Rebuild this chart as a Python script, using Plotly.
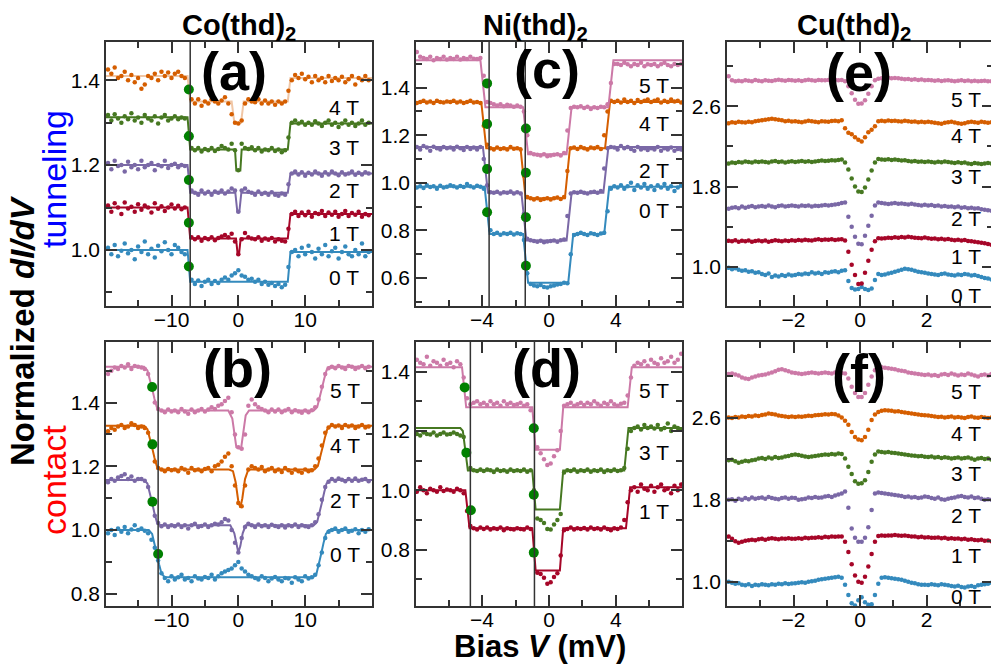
import plotly.graph_objects as go

FONT = "Liberation Sans, Arial, sans-serif"
FIELD_COLORS = {"0 T": "#348ABD", "1 T": "#A60628", "2 T": "#7A68A6",
                "3 T": "#467821", "4 T": "#D55E00", "5 T": "#CC79A7"}
MARK_COLOR = "#008000"
AX_COLOR = "#333333"


def grid(lo, hi, n):
    return [lo + (hi - lo) * i / (n - 1) for i in range(n)]


# ---------------- (a) Co(thd)2 tunneling : bias -19.5..19.5 mV, 0.5 mV step
co_bias = (-19.5, 19.5)
a_0T = [1.005, 0.99, 1.012, 0.985, 0.998, 1.015, 0.992, 1.0, 0.978, 1.008,
        0.995, 1.02, 0.99, 1.003, 0.982, 1.01, 0.997, 1.018, 1.0, 0.99,
        1.012, 1.005, 0.995, 0.99, 0.962, 0.93, 0.92, 0.928, 0.915, 0.925,
        0.93, 0.92, 0.927, 0.922, 0.93, 0.935, 0.93, 0.94, 0.945, 0.952,
        0.94, 0.937, 0.93, 0.932, 0.925, 0.93, 0.92, 0.925, 0.918, 0.922,
        0.915, 0.92, 0.912, 0.918, 0.96, 0.995, 1.0, 0.985, 1.005, 0.99,
        1.01, 0.995, 0.98, 1.003, 0.99, 1.012, 0.985, 0.997, 1.005, 0.98,
        0.995, 1.008, 0.99, 0.985, 1.0, 0.99, 1.015, 0.985, 0.995]
a_1T = [1.105, 1.09, 1.11, 1.1, 1.085, 1.112, 1.098, 1.102, 1.09, 1.108,
        1.095, 1.105, 1.1, 1.088, 1.11, 1.097, 1.103, 1.092, 1.1, 1.107,
        1.098, 1.104, 1.096, 1.1, 1.065, 1.03, 1.025, 1.03, 1.022, 1.028,
        1.025, 1.03, 1.023, 1.028, 1.032, 1.035, 1.03, 1.038, 1.02, 0.99,
        1.025, 1.04, 1.03, 1.027, 1.025, 1.03, 1.022, 1.027, 1.024, 1.028,
        1.02, 1.025, 1.022, 1.02, 1.05, 1.085, 1.09, 1.08, 1.088, 1.082,
        1.09, 1.078, 1.087, 1.085, 1.092, 1.08, 1.088, 1.083, 1.09, 1.078,
        1.085, 1.092, 1.08, 1.087, 1.083, 1.09, 1.078, 1.085, 1.082]
a_2T = [1.205, 1.19, 1.21, 1.198, 1.2, 1.185, 1.208, 1.195, 1.2, 1.19,
        1.21, 1.195, 1.2, 1.205, 1.188, 1.2, 1.197, 1.21, 1.193, 1.2,
        1.203, 1.195, 1.2, 1.198, 1.17, 1.14, 1.135, 1.13, 1.14, 1.133,
        1.137, 1.13, 1.138, 1.135, 1.14, 1.133, 1.138, 1.145, 1.14, 1.09,
        1.14, 1.145, 1.137, 1.135, 1.13, 1.138, 1.132, 1.135, 1.13, 1.136,
        1.13, 1.128, 1.133, 1.13, 1.155, 1.18, 1.185, 1.178, 1.183, 1.175,
        1.182, 1.178, 1.185, 1.18, 1.175, 1.183, 1.178, 1.185, 1.18, 1.176,
        1.183, 1.178, 1.18, 1.185, 1.177, 1.182, 1.178, 1.183, 1.18]
a_3T = [1.318, 1.305, 1.32, 1.31, 1.3, 1.315, 1.308, 1.322, 1.305, 1.312,
        1.3, 1.318, 1.31, 1.305, 1.315, 1.298, 1.312, 1.318, 1.305, 1.31,
        1.315, 1.308, 1.312, 1.31, 1.275, 1.24, 1.235, 1.24, 1.232, 1.238,
        1.235, 1.24, 1.233, 1.238, 1.245, 1.24, 1.237, 1.25, 1.235, 1.188,
        1.25, 1.24, 1.238, 1.242, 1.235, 1.24, 1.232, 1.237, 1.235, 1.24,
        1.233, 1.237, 1.23, 1.235, 1.265, 1.3, 1.305, 1.298, 1.302, 1.295,
        1.3, 1.295, 1.303, 1.298, 1.292, 1.3, 1.305, 1.295, 1.3, 1.29,
        1.298, 1.305, 1.295, 1.3, 1.292, 1.298, 1.305, 1.295, 1.3]
a_4T = [1.425, 1.415, 1.43, 1.405, 1.41, 1.42, 1.4, 1.412, 1.395, 1.405,
        1.38, 1.39, 1.41, 1.405, 1.415, 1.4, 1.42, 1.41, 1.418, 1.405,
        1.415, 1.42, 1.41, 1.405, 1.375, 1.355, 1.345, 1.355, 1.34, 1.35,
        1.345, 1.355, 1.35, 1.345, 1.352, 1.36, 1.345, 1.32, 1.3, 1.298,
        1.305, 1.345, 1.355, 1.35, 1.348, 1.355, 1.345, 1.352, 1.345, 1.35,
        1.342, 1.35, 1.345, 1.35, 1.375, 1.4, 1.412, 1.405, 1.415, 1.402,
        1.408, 1.395, 1.41, 1.4, 1.405, 1.395, 1.41, 1.398, 1.405, 1.4,
        1.408, 1.395, 1.402, 1.41, 1.39, 1.405, 1.4, 1.41, 1.4]
a_fits = {
    "0 T": ([-19.8, -7.6, -7.2, 7.4, 7.8, 20], [1.0, 1.0, 0.925, 0.925, 0.995, 0.995]),
    "1 T": ([-19.8, -7.6, -7.2, -0.35, -0.1, 0.1, 0.35, 7.4, 7.8, 20],
            [1.1, 1.1, 1.027, 1.027, 0.99, 0.99, 1.027, 1.027, 1.085, 1.085]),
    "2 T": ([-19.8, -7.6, -7.2, -0.45, -0.15, 0.15, 0.45, 7.4, 7.8, 20],
            [1.2, 1.2, 1.135, 1.135, 1.09, 1.09, 1.135, 1.135, 1.18, 1.18]),
    "3 T": ([-19.8, -7.6, -7.2, -0.5, -0.3, 0.3, 0.5, 7.4, 7.8, 20],
            [1.313, 1.313, 1.237, 1.237, 1.187, 1.187, 1.237, 1.237, 1.298, 1.298]),
    "4 T": ([-19.8, -7.6, -7.2, -1.0, -0.6, 0.4, 0.8, 7.4, 7.8, 20],
            [1.41, 1.41, 1.35, 1.35, 1.3, 1.3, 1.35, 1.35, 1.405, 1.405]),
}
a_mark_x = [-7.4, -7.4, -7.4, -7.4, -7.4]
a_mark_y = [1.378, 1.268, 1.165, 1.064, 0.961]
a_vlines = [-7.2]
a_label_y = {"4 T": 1.336, "3 T": 1.242, "2 T": 1.141, "1 T": 1.04, "0 T": 0.936}

# ---------------- (b) Co(thd)2 contact
b_0T = [0.99, 1.0, 0.985, 1.005, 0.995, 1.01, 0.99, 1.002, 1.015, 1.0,
        1.005, 0.998, 0.99, 0.97, 0.945, 0.905, 0.865, 0.85, 0.84, 0.855,
        0.845, 0.852, 0.86, 0.845, 0.85, 0.84, 0.855, 0.848, 0.845, 0.853,
        0.85, 0.86, 0.845, 0.855, 0.865, 0.87, 0.875, 0.88, 0.89, 0.9,
        0.88, 0.87, 0.86, 0.855, 0.85, 0.845, 0.855, 0.85, 0.84, 0.848,
        0.853, 0.845, 0.84, 0.85, 0.848, 0.835, 0.852, 0.845, 0.84, 0.855,
        0.848, 0.852, 0.86, 0.89, 0.93, 0.975, 0.995, 1.0, 1.005, 0.995,
        1.0, 1.005, 0.995, 0.998, 1.003, 0.99, 1.0, 0.995, 1.003]
b_2T = [1.15, 1.16, 1.155, 1.165, 1.17, 1.175, 1.16, 1.168, 1.155, 1.16,
        1.16, 1.155, 1.135, 1.095, 1.045, 1.022, 1.012, 1.018, 1.01, 1.015,
        1.012, 1.018, 1.01, 1.015, 1.005, 1.015, 1.02, 1.01, 1.013, 1.018,
        1.01, 1.015, 1.02, 1.018, 1.025, 1.035, 1.03, 1.0, 0.96, 0.93,
        0.975, 1.01, 1.02, 1.015, 1.01, 1.018, 1.012, 1.015, 1.01, 1.017,
        1.013, 1.01, 1.015, 1.008, 1.015, 1.012, 1.018, 1.01, 1.015, 1.012,
        1.01, 1.015, 1.025, 1.05, 1.095, 1.135, 1.152, 1.16, 1.155, 1.162,
        1.158, 1.153, 1.16, 1.155, 1.162, 1.155, 1.158, 1.16, 1.153]
b_4T = [1.31, 1.32, 1.315, 1.325, 1.33, 1.32, 1.325, 1.335, 1.33, 1.32,
        1.325, 1.32, 1.305, 1.265, 1.215, 1.195, 1.19, 1.185, 1.192, 1.188,
        1.19, 1.185, 1.195, 1.19, 1.18, 1.195, 1.188, 1.19, 1.185, 1.192,
        1.195, 1.185, 1.2, 1.205, 1.215, 1.23, 1.24, 1.2, 1.14, 1.085,
        1.075, 1.14, 1.19, 1.2, 1.195, 1.19, 1.198, 1.185, 1.19, 1.195,
        1.185, 1.19, 1.182, 1.195, 1.188, 1.18, 1.19, 1.185, 1.18, 1.19,
        1.185, 1.188, 1.2, 1.225, 1.265, 1.305, 1.322, 1.33, 1.325, 1.328,
        1.32, 1.33, 1.325, 1.328, 1.32, 1.325, 1.33, 1.322, 1.325]
b_5T = [1.49, 1.5, 1.51, 1.505, 1.515, 1.51, 1.52, 1.505, 1.515, 1.512,
        1.51, 1.505, 1.49, 1.45, 1.4, 1.38, 1.375, 1.37, 1.378, 1.372,
        1.375, 1.37, 1.38, 1.372, 1.365, 1.378, 1.37, 1.375, 1.38, 1.372,
        1.378, 1.385, 1.38, 1.39, 1.395, 1.405, 1.415, 1.37, 1.3, 1.26,
        1.255, 1.3, 1.39, 1.41, 1.395, 1.385, 1.38, 1.375, 1.37, 1.378,
        1.372, 1.378, 1.37, 1.375, 1.38, 1.37, 1.376, 1.372, 1.368, 1.375,
        1.37, 1.376, 1.385, 1.41, 1.45, 1.49, 1.508, 1.512, 1.508, 1.515,
        1.51, 1.505, 1.515, 1.512, 1.505, 1.51, 1.515, 1.508, 1.512]
b_fits = {
    "0 T": ([-19.8, -13.4, -12.9, -12.55, -12.2, -11.85, -11.5, -11.0,
             11.2, 11.7, 12.05, 12.4, 12.75, 13.1, 13.6, 20],
            [1.0, 1.0, 0.988, 0.96, 0.926, 0.892, 0.864, 0.852,
             0.852, 0.864, 0.892, 0.926, 0.96, 0.988, 1.0, 1.0]),
    "2 T": ([-19.8, -14.1, -13.6, -13.25, -12.9, -12.55, -12.2, -11.7,
             -1.2, -0.6, -0.25, 0, 0.3, 0.65, 1.1,
             11.3, 11.8, 12.15, 12.5, 12.85, 13.2, 13.7, 20],
            [1.157, 1.157, 1.146, 1.119, 1.086, 1.053, 1.026, 1.015,
             1.015, 0.99, 0.95, 0.93, 0.95, 0.99, 1.015,
             1.015, 1.026, 1.053, 1.086, 1.119, 1.146, 1.157, 1.157]),
    "4 T": ([-19.8, -14.1, -13.6, -13.25, -12.9, -12.55, -12.2, -11.7,
             -1.4, -0.8, -0.4, 0, 0.3, 0.6, 1.0, 1.5,
             11.4, 11.9, 12.25, 12.6, 12.95, 13.3, 13.8, 20],
            [1.327, 1.327, 1.316, 1.29, 1.259, 1.227, 1.201, 1.19,
             1.19, 1.185, 1.15, 1.09, 1.07, 1.1, 1.16, 1.19,
             1.19, 1.201, 1.227, 1.259, 1.29, 1.316, 1.327, 1.327]),
    "5 T": ([-19.8, -14.1, -13.6, -13.25, -12.9, -12.55, -12.2, -11.7,
             -1.5, -0.9, -0.5, -0.3, 0.4, 0.7, 1.1, 1.6,
             11.3, 11.8, 12.15, 12.5, 12.85, 13.2, 13.7, 20],
            [1.512, 1.512, 1.501, 1.475, 1.444, 1.412, 1.386, 1.375,
             1.375, 1.35, 1.29, 1.26, 1.255, 1.3, 1.36, 1.375,
             1.375, 1.386, 1.412, 1.444, 1.475, 1.501, 1.512, 1.512]),
}
b_mark_x = [-12.9, -12.85, -12.85, -12.0]
b_mark_y = [1.449, 1.269, 1.089, 0.925]
b_vlines = [-12.0]
b_label_y = {"5 T": 1.439, "4 T": 1.266, "2 T": 1.094, "0 T": 0.922}

# ---------------- (c) Ni(thd)2 tunneling : bias -7.9..7.9 mV, 0.2 mV step
ni_bias = (-7.9, 7.9)
c_0T = [0.98, 0.985, 0.978, 0.99, 0.982, 0.985, 0.975, 0.988, 0.98, 0.983,
        0.99, 0.985, 0.98, 0.987, 0.982, 0.995, 0.985, 0.98, 0.988, 0.983,
        0.975, 0.88, 0.8, 0.785, 0.79, 0.782, 0.788, 0.785, 0.79, 0.783,
        0.788, 0.785, 0.76, 0.62, 0.575, 0.568, 0.565, 0.57, 0.562, 0.56,
        0.565, 0.568, 0.572, 0.575, 0.58, 0.578, 0.7, 0.78, 0.785, 0.79,
        0.785, 0.78, 0.788, 0.785, 0.78, 0.787, 0.79, 0.88, 0.975, 0.985,
        0.98, 0.99, 0.975, 0.985, 1.0, 0.97, 0.99, 0.98, 0.995, 0.975,
        0.985, 0.97, 0.99, 0.98, 0.995, 0.975, 0.985, 0.965, 0.98, 0.99]
c_2T = [1.15, 1.14, 1.155, 1.148, 1.135, 1.152, 1.145, 1.14, 1.15, 1.145,
        1.148, 1.14, 1.152, 1.145, 1.138, 1.15, 1.142, 1.148, 1.14, 1.15,
        1.1, 0.99, 0.96, 0.958, 0.962, 0.955, 0.96, 0.958, 0.963, 0.955,
        0.96, 0.955, 0.87, 0.765, 0.758, 0.755, 0.752, 0.756, 0.75, 0.753,
        0.755, 0.757, 0.752, 0.758, 0.762, 0.86, 0.955, 0.96, 0.958, 0.962,
        0.958, 0.955, 0.96, 0.962, 0.958, 0.965, 1.06, 1.145, 1.15, 1.148,
        1.14, 1.155, 1.145, 1.15, 1.142, 1.135, 1.15, 1.14, 1.145, 1.138,
        1.145, 1.14, 1.15, 1.135, 1.145, 1.14, 1.148, 1.135, 1.142, 1.14]
c_4T = [1.335, 1.34, 1.345, 1.338, 1.342, 1.335, 1.345, 1.34, 1.338, 1.342,
        1.34, 1.345, 1.338, 1.342, 1.335, 1.34, 1.345, 1.338, 1.34, 1.335,
        1.24, 1.16, 1.145, 1.14, 1.148, 1.142, 1.145, 1.14, 1.15, 1.143,
        1.145, 1.14, 1.03, 0.94, 0.935, 0.93, 0.935, 0.928, 0.932, 0.935,
        0.93, 0.935, 0.938, 0.932, 0.94, 1.05, 1.145, 1.148, 1.142, 1.15,
        1.145, 1.14, 1.148, 1.145, 1.15, 1.142, 1.2, 1.3, 1.345, 1.34,
        1.345, 1.338, 1.35, 1.34, 1.345, 1.335, 1.348, 1.34, 1.345, 1.35,
        1.34, 1.345, 1.35, 1.338, 1.345, 1.34, 1.35, 1.342, 1.345, 1.338]
c_5T = [1.55, 1.53, 1.525, 1.52, 1.53, 1.515, 1.525, 1.52, 1.53, 1.518,
        1.525, 1.52, 1.53, 1.518, 1.525, 1.52, 1.53, 1.522, 1.52, 1.525,
        1.45, 1.34, 1.335, 1.33, 1.325, 1.33, 1.322, 1.328, 1.325, 1.32,
        1.325, 1.32, 1.3, 1.2, 1.125, 1.12, 1.118, 1.115, 1.12, 1.112,
        1.115, 1.118, 1.12, 1.115, 1.125, 1.22, 1.315, 1.32, 1.318, 1.322,
        1.315, 1.32, 1.31, 1.318, 1.315, 1.32, 1.318, 1.33, 1.42, 1.5,
        1.5, 1.495, 1.505, 1.498, 1.49, 1.5, 1.495, 1.505, 1.49, 1.498,
        1.495, 1.5, 1.49, 1.498, 1.505, 1.495, 1.49, 1.5, 1.495, 1.5]
c_fits = {
    "0 T": ([-8, -3.85, -3.55, -1.55, -1.25, 1.15, 1.45, 3.3, 3.6, 8],
            [0.983, 0.983, 0.785, 0.785, 0.58, 0.58, 0.785, 0.785, 0.983, 0.983]),
    "2 T": ([-8, -3.95, -3.65, -1.65, -1.35, 1.05, 1.35, 3.25, 3.55, 8],
            [1.15, 1.15, 0.958, 0.958, 0.757, 0.757, 0.958, 0.958, 1.15, 1.15]),
    "4 T": ([-8, -4.05, -3.75, -1.7, -1.4, 0.95, 1.25, 3.35, 3.65, 8],
            [1.34, 1.34, 1.145, 1.145, 0.935, 0.935, 1.145, 1.145, 1.34, 1.34]),
    "5 T": ([-8, -4.1, -3.8, -1.55, -1.25, 1.05, 1.35, 3.55, 3.85, 8],
            [1.515, 1.515, 1.318, 1.318, 1.12, 1.12, 1.318, 1.318, 1.515, 1.515]),
}
c_mark_x = [-3.7, -3.7, -3.7, -3.7, -1.38, -1.38, -1.38, -1.38]
c_mark_y = [1.418, 1.247, 1.058, 0.876, 1.228, 1.042, 0.855, 0.651]
c_vlines = [-3.58, -1.42]
c_label_y = {"5 T": 1.41, "4 T": 1.25, "2 T": 1.053, "0 T": 0.885}

# ---------------- (d) Ni(thd)2 contact
d_1T = [0.995, 1.01, 1.0, 0.99, 1.005, 1.0, 0.995, 1.01, 0.998, 1.003,
        1.0, 0.995, 1.005, 1.0, 0.99, 0.93, 0.88, 0.872, 0.868, 0.875,
        0.87, 0.875, 0.868, 0.872, 0.87, 0.875, 0.865, 0.872, 0.87, 0.868,
        0.872, 0.87, 0.868, 0.875, 0.87, 0.8, 0.722, 0.718, 0.705, 0.685,
        0.69, 0.708, 0.72, 0.78, 0.865, 0.87, 0.875, 0.868, 0.872, 0.87,
        0.873, 0.868, 0.875, 0.87, 0.872, 0.868, 0.875, 0.87, 0.865, 0.872,
        0.87, 0.875, 0.9, 0.96, 1.0, 1.01, 0.995, 1.02, 1.005, 1.0,
        1.015, 0.995, 1.01, 1.02, 1.0, 1.005, 0.99, 1.015, 1.0, 1.02]
d_3T = [1.19, 1.185, 1.195, 1.19, 1.188, 1.195, 1.185, 1.19, 1.195, 1.188,
        1.19, 1.195, 1.19, 1.185, 1.18, 1.12, 1.075, 1.068, 1.065, 1.07,
        1.065, 1.07, 1.068, 1.062, 1.07, 1.065, 1.068, 1.063, 1.07, 1.065,
        1.068, 1.065, 1.07, 1.063, 1.068, 1.0, 0.905, 0.9, 0.89, 0.87,
        0.868, 0.885, 0.9, 0.92, 1.06, 1.068, 1.065, 1.07, 1.063, 1.068,
        1.065, 1.07, 1.063, 1.068, 1.065, 1.07, 1.062, 1.068, 1.065, 1.07,
        1.065, 1.068, 1.075, 1.14, 1.2, 1.21, 1.215, 1.205, 1.22, 1.21,
        1.215, 1.208, 1.22, 1.205, 1.21, 1.225, 1.2, 1.215, 1.21, 1.205]
d_5T = [1.44, 1.43, 1.425, 1.45, 1.42, 1.435, 1.43, 1.42, 1.44, 1.425,
        1.43, 1.415, 1.435, 1.425, 1.38, 1.31, 1.29, 1.295, 1.3, 1.29,
        1.295, 1.288, 1.3, 1.29, 1.295, 1.285, 1.3, 1.29, 1.295, 1.288,
        1.29, 1.295, 1.285, 1.29, 1.27, 1.2, 1.145, 1.125, 1.105, 1.085,
        1.09, 1.115, 1.135, 1.2, 1.285, 1.29, 1.295, 1.285, 1.29, 1.295,
        1.288, 1.295, 1.29, 1.3, 1.292, 1.285, 1.295, 1.29, 1.3, 1.29,
        1.285, 1.292, 1.295, 1.32, 1.38, 1.42, 1.43, 1.425, 1.435, 1.42,
        1.44, 1.43, 1.425, 1.445, 1.43, 1.435, 1.45, 1.43, 1.44, 1.46]
d_fits = {
    "1 T": ([-8, -5.0, -4.75, -1.0, -0.8, 0.65, 0.85, 4.6, 4.85, 8],
            [1.0, 1.0, 0.872, 0.872, 0.73, 0.73, 0.872, 0.872, 1.01, 1.01]),
    "3 T": ([-8, -5.3, -5.15, -4.85, -1.0, -0.8, 0.65, 0.85, 4.5, 4.75, 8],
            [1.21, 1.21, 1.2, 1.067, 1.067, 0.935, 0.935, 1.067, 1.067, 1.21, 1.21]),
    "5 T": ([-8, -5.2, -4.95, -1.0, -0.8, 0.65, 0.85, 4.7, 4.95, 8],
            [1.415, 1.415, 1.28, 1.28, 1.137, 1.137, 1.28, 1.28, 1.415, 1.415]),
}
d_mark_x = [-5.04, -4.94, -4.67, -0.91, -0.91, -0.91]
d_mark_y = [1.347, 1.127, 0.933, 1.209, 0.985, 0.79]
d_vlines = [-4.7, -0.87]
d_label_y = {"5 T": 1.336, "3 T": 1.129, "1 T": 0.927}

# ---------------- (e) Cu(thd)2 tunneling : bias -3.95..3.95 mV, 0.1 mV step
cu_bias = (-3.95, 3.95)
e_0T = [0.99, 0.975, 0.985, 0.97, 0.96, 0.965, 0.95, 0.955, 0.94, 0.945,
        0.93, 0.92, 0.935, 0.9, 0.915, 0.905, 0.92, 0.91, 0.925, 0.915,
        0.92, 0.93, 0.925, 0.935, 0.93, 0.945, 0.935, 0.94, 0.93, 0.945,
        0.94, 0.95, 0.955, 0.945, 0.96, 0.965, 0.86, 0.79, 0.775, 0.78,
        0.8, 0.78, 0.77, 0.785, 0.87, 0.93, 0.92, 0.925, 0.935, 0.94,
        0.95, 0.96, 0.97, 0.98, 0.975, 0.97, 0.96, 0.95, 0.945, 0.94,
        0.935, 0.93, 0.925, 0.92, 0.93, 0.935, 0.925, 0.92, 0.915, 0.925,
        0.92, 0.93, 0.925, 0.915, 0.92, 0.91, 0.9, 0.89, 0.885, 0.875]
e_1T = [1.26, 1.255, 1.265, 1.25, 1.26, 1.255, 1.262, 1.25, 1.258, 1.262,
        1.255, 1.262, 1.25, 1.258, 1.265, 1.26, 1.255, 1.263, 1.258, 1.265,
        1.26, 1.268, 1.262, 1.27, 1.265, 1.262, 1.27, 1.275, 1.268, 1.272,
        1.27, 1.275, 1.268, 1.272, 1.275, 1.262, 1.15, 1.02, 0.92, 0.83,
        0.835, 0.94, 1.06, 1.17, 1.255, 1.285, 1.282, 1.285, 1.29, 1.288,
        1.295, 1.29, 1.298, 1.292, 1.3, 1.295, 1.29, 1.288, 1.285, 1.292,
        1.285, 1.28, 1.282, 1.275, 1.28, 1.272, 1.278, 1.27, 1.265, 1.27,
        1.262, 1.268, 1.258, 1.255, 1.25, 1.245, 1.24, 1.235, 1.228, 1.22]
e_2T = [1.58, 1.59, 1.595, 1.585, 1.6, 1.59, 1.598, 1.605, 1.595, 1.6,
        1.605, 1.598, 1.61, 1.6, 1.595, 1.605, 1.61, 1.6, 1.605, 1.612,
        1.605, 1.6, 1.61, 1.605, 1.612, 1.6, 1.608, 1.605, 1.612, 1.615,
        1.61, 1.615, 1.62, 1.625, 1.635, 1.64, 1.5, 1.4, 1.3, 1.23,
        1.225, 1.31, 1.41, 1.51, 1.61, 1.64, 1.635, 1.63, 1.625, 1.63,
        1.635, 1.628, 1.632, 1.625, 1.62, 1.628, 1.62, 1.615, 1.612, 1.618,
        1.61, 1.615, 1.605, 1.61, 1.6, 1.605, 1.598, 1.6, 1.595, 1.6,
        1.59, 1.595, 1.585, 1.59, 1.582, 1.585, 1.575, 1.57, 1.565, 1.56]
e_3T = [2.03, 2.04, 2.035, 2.045, 2.04, 2.05, 2.045, 2.04, 2.05, 2.045,
        2.05, 2.045, 2.04, 2.05, 2.055, 2.045, 2.05, 2.04, 2.048, 2.052,
        2.045, 2.05, 2.055, 2.048, 2.052, 2.045, 2.05, 2.055, 2.06, 2.055,
        2.058, 2.062, 2.06, 2.065, 2.07, 2.04, 1.97, 1.88, 1.8, 1.75,
        1.745, 1.79, 1.87, 1.96, 2.04, 2.075, 2.07, 2.068, 2.072, 2.065,
        2.07, 2.065, 2.06, 2.062, 2.055, 2.05, 2.055, 2.048, 2.05, 2.045,
        2.05, 2.045, 2.04, 2.048, 2.042, 2.05, 2.045, 2.04, 2.035, 2.042,
        2.035, 2.04, 2.03, 2.025, 2.035, 2.03, 2.025, 2.03, 2.035, 2.03]
e_4T = [2.43, 2.44, 2.435, 2.445, 2.44, 2.438, 2.445, 2.44, 2.45, 2.455,
        2.46, 2.465, 2.47, 2.475, 2.47, 2.465, 2.46, 2.45, 2.455, 2.448,
        2.45, 2.445, 2.44, 2.448, 2.455, 2.45, 2.445, 2.44, 2.45, 2.448,
        2.445, 2.452, 2.455, 2.45, 2.46, 2.38, 2.335, 2.32, 2.29, 2.265,
        2.25, 2.29, 2.34, 2.365, 2.4, 2.45, 2.455, 2.45, 2.458, 2.452,
        2.455, 2.45, 2.448, 2.455, 2.45, 2.445, 2.448, 2.44, 2.445, 2.44,
        2.445, 2.44, 2.435, 2.43, 2.425, 2.435, 2.44, 2.445, 2.438, 2.43,
        2.425, 2.43, 2.44, 2.445, 2.44, 2.435, 2.445, 2.44, 2.435, 2.44]
e_5T = [2.9, 2.86, 2.85, 2.855, 2.848, 2.86, 2.855, 2.85, 2.862, 2.855,
        2.85, 2.86, 2.855, 2.852, 2.86, 2.865, 2.86, 2.855, 2.862, 2.858,
        2.855, 2.86, 2.852, 2.858, 2.865, 2.86, 2.855, 2.862, 2.858, 2.86,
        2.862, 2.858, 2.865, 2.86, 2.862, 2.85, 2.8, 2.73, 2.665, 2.625,
        2.628, 2.66, 2.725, 2.8, 2.86, 2.875, 2.88, 2.878, 2.885, 2.88,
        2.882, 2.878, 2.875, 2.87, 2.872, 2.865, 2.87, 2.862, 2.866, 2.86,
        2.862, 2.858, 2.855, 2.86, 2.852, 2.856, 2.86, 2.855, 2.85, 2.855,
        2.858, 2.852, 2.856, 2.85, 2.855, 2.848, 2.852, 2.855, 2.848, 2.85]
e_label_y = {"5 T": 2.67, "4 T": 2.31, "3 T": 1.896, "2 T": 1.482, "1 T": 1.1, "0 T": 0.718}

# ---------------- (f) Cu(thd)2 contact
f_0T = [1.0, 0.99, 0.98, 0.985, 0.97, 0.965, 0.975, 0.96, 0.97, 0.965,
        0.975, 0.97, 0.965, 0.975, 0.97, 0.98, 0.975, 0.985, 0.978, 0.982,
        0.985, 0.99, 0.995, 0.99, 1.0, 1.005, 1.01, 1.02, 1.025, 1.03,
        1.035, 1.04, 1.045, 1.05, 1.04, 0.97, 0.87, 0.79, 0.77, 0.82,
        0.85, 0.8, 0.775, 0.78, 0.87, 0.98, 1.04, 1.045, 1.04, 1.035,
        1.03, 1.025, 1.02, 1.01, 1.0, 0.99, 0.985, 0.975, 0.97, 0.972,
        0.968, 0.975, 0.97, 0.965, 0.975, 0.97, 0.965, 0.96, 0.955, 0.962,
        0.95, 0.945, 0.955, 0.96, 0.95, 0.965, 0.97, 0.975, 0.98, 0.99]
f_1T = [1.44, 1.42, 1.395, 1.38, 1.39, 1.4, 1.405, 1.41, 1.405, 1.415,
        1.42, 1.41, 1.418, 1.425, 1.42, 1.415, 1.422, 1.42, 1.425, 1.42,
        1.418, 1.425, 1.42, 1.428, 1.425, 1.43, 1.428, 1.435, 1.43, 1.438,
        1.435, 1.44, 1.438, 1.442, 1.44, 1.39, 1.29, 1.17, 1.06, 1.0,
        0.99, 1.05, 1.15, 1.27, 1.39, 1.445, 1.45, 1.448, 1.452, 1.45,
        1.455, 1.45, 1.448, 1.452, 1.445, 1.44, 1.442, 1.435, 1.438, 1.432,
        1.435, 1.43, 1.428, 1.432, 1.425, 1.43, 1.42, 1.425, 1.418, 1.422,
        1.415, 1.42, 1.41, 1.415, 1.408, 1.405, 1.41, 1.4, 1.402, 1.395]
f_2T = [1.8, 1.805, 1.79, 1.81, 1.8, 1.815, 1.805, 1.82, 1.81, 1.815,
        1.82, 1.81, 1.825, 1.815, 1.81, 1.805, 1.815, 1.822, 1.81, 1.818,
        1.815, 1.8, 1.805, 1.81, 1.82, 1.815, 1.825, 1.818, 1.822, 1.83,
        1.835, 1.825, 1.84, 1.85, 1.86, 1.88, 1.72, 1.52, 1.43, 1.39,
        1.39, 1.43, 1.53, 1.7, 1.86, 1.87, 1.865, 1.86, 1.855, 1.85,
        1.845, 1.84, 1.835, 1.825, 1.83, 1.82, 1.825, 1.815, 1.82, 1.83,
        1.825, 1.815, 1.81, 1.82, 1.805, 1.8, 1.81, 1.815, 1.82, 1.83,
        1.835, 1.825, 1.82, 1.83, 1.815, 1.82, 1.81, 1.8, 1.805, 1.8]
f_3T = [2.185, 2.19, 2.175, 2.16, 2.17, 2.18, 2.175, 2.185, 2.19, 2.2,
        2.205, 2.195, 2.21, 2.2, 2.215, 2.205, 2.21, 2.22, 2.225, 2.235,
        2.24, 2.235, 2.228, 2.22, 2.215, 2.22, 2.225, 2.23, 2.235, 2.24,
        2.238, 2.245, 2.24, 2.25, 2.245, 2.2, 2.12, 2.05, 1.98, 1.955,
        1.96, 1.99, 2.07, 2.17, 2.24, 2.27, 2.265, 2.26, 2.265, 2.258,
        2.255, 2.25, 2.245, 2.24, 2.235, 2.23, 2.228, 2.222, 2.225, 2.218,
        2.215, 2.22, 2.21, 2.215, 2.205, 2.212, 2.208, 2.2, 2.205, 2.21,
        2.2, 2.205, 2.21, 2.2, 2.19, 2.2, 2.205, 2.195, 2.2, 2.19]
f_4T = [2.6, 2.595, 2.605, 2.6, 2.61, 2.605, 2.615, 2.61, 2.62, 2.615,
        2.625, 2.63, 2.64, 2.635, 2.63, 2.62, 2.615, 2.61, 2.605, 2.61,
        2.605, 2.61, 2.608, 2.612, 2.618, 2.615, 2.622, 2.625, 2.628, 2.632,
        2.63, 2.635, 2.632, 2.62, 2.6, 2.57, 2.53, 2.46, 2.41, 2.385,
        2.38, 2.41, 2.48, 2.575, 2.63, 2.655, 2.665, 2.67, 2.668, 2.665,
        2.66, 2.662, 2.655, 2.65, 2.645, 2.64, 2.635, 2.63, 2.625, 2.622,
        2.62, 2.615, 2.61, 2.605, 2.608, 2.6, 2.605, 2.61, 2.6, 2.605,
        2.6, 2.595, 2.605, 2.61, 2.6, 2.598, 2.605, 2.6, 2.595, 2.6]
f_5T = [3.025, 3.03, 3.02, 3.01, 2.99, 2.98, 2.975, 2.99, 3.0, 3.01,
        3.015, 3.02, 3.03, 3.04, 3.05, 3.065, 3.07, 3.06, 3.05, 3.04,
        3.035, 3.03, 3.025, 3.03, 3.035, 3.04, 3.035, 3.03, 3.035, 3.04,
        3.035, 3.03, 3.038, 3.04, 3.035, 3.03, 2.98, 2.9, 2.84, 2.8,
        2.8, 2.84, 2.92, 3.0, 3.06, 3.08, 3.09, 3.085, 3.08, 3.075,
        3.07, 3.06, 3.055, 3.05, 3.04, 3.035, 3.03, 3.025, 3.02, 3.015,
        3.02, 3.01, 3.015, 3.005, 3.02, 3.025, 3.015, 3.03, 3.02, 3.01,
        3.02, 3.015, 3.03, 3.02, 3.01, 3.0, 3.015, 3.02, 3.01, 3.025]
f_label_y = {"5 T": 2.85, "4 T": 2.44, "3 T": 2.055, "2 T": 1.65, "1 T": 1.26, "0 T": 0.854}

# tick labels shown on each column's bias axis
co_ticks = [-10, 0, 10]
ni_ticks = [-4, 0, 4]
cu_ticks = [-2, 0, 2]

# ---------------- panel definitions
panels = [
    dict(ax=("x", "y"), bias=co_bias, series={"0 T": a_0T, "1 T": a_1T, "2 T": a_2T, "3 T": a_3T, "4 T": a_4T},
         fits=a_fits, mx=a_mark_x, my=a_mark_y, vl=a_vlines, lab=a_label_y, labx=15.8),
    dict(ax=("x4", "y4"), bias=co_bias, series={"0 T": b_0T, "2 T": b_2T, "4 T": b_4T, "5 T": b_5T},
         fits=b_fits, mx=b_mark_x, my=b_mark_y, vl=b_vlines, lab=b_label_y, labx=16.0),
    dict(ax=("x2", "y2"), bias=ni_bias, series={"0 T": c_0T, "2 T": c_2T, "4 T": c_4T, "5 T": c_5T},
         fits=c_fits, mx=c_mark_x, my=c_mark_y, vl=c_vlines, lab=c_label_y, labx=6.3),
    dict(ax=("x5", "y5"), bias=ni_bias, series={"1 T": d_1T, "3 T": d_3T, "5 T": d_5T},
         fits=d_fits, mx=d_mark_x, my=d_mark_y, vl=d_vlines, lab=d_label_y, labx=6.3),
    dict(ax=("x3", "y3"), bias=cu_bias,
         series={"0 T": e_0T, "1 T": e_1T, "2 T": e_2T, "3 T": e_3T, "4 T": e_4T, "5 T": e_5T},
         fits={}, mx=[], my=[], vl=[], lab=e_label_y, labx=3.2),
    dict(ax=("x6", "y6"), bias=cu_bias,
         series={"0 T": f_0T, "1 T": f_1T, "2 T": f_2T, "3 T": f_3T, "4 T": f_4T, "5 T": f_5T},
         fits={}, mx=[], my=[], vl=[], lab=f_label_y, labx=3.2),
]

fig = go.Figure()
shapes = []
annotations = []
for p in panels:
    xa, ya = p["ax"]
    for name, ys in p["series"].items():
        fig.add_trace(go.Scatter(x=grid(p["bias"][0], p["bias"][1], len(ys)), y=ys,
                                 mode="markers", xaxis=xa, yaxis=ya, showlegend=False,
                                 marker=dict(size=4.5, color=FIELD_COLORS[name], line=dict(width=0))))
    for name, (fx, fy) in p["fits"].items():
        faint = (xa == "x" and name == "4 T")
        fig.add_trace(go.Scatter(x=fx, y=fy, mode="lines", xaxis=xa, yaxis=ya, showlegend=False,
                                 opacity=0.35 if faint else 1.0,
                                 line=dict(color=FIELD_COLORS[name], width=2)))
    for v in p["vl"]:
        shapes.append(dict(type="line", xref=xa, yref=ya + " domain", x0=v, x1=v, y0=0, y1=1,
                           line=dict(color=AX_COLOR, width=1.5), layer="above"))
    if p["mx"]:
        fig.add_trace(go.Scatter(x=p["mx"], y=p["my"], mode="markers", xaxis=xa, yaxis=ya,
                                 showlegend=False, cliponaxis=False,
                                 marker=dict(size=10, color=MARK_COLOR)))
    for name, yv in p["lab"].items():
        annotations.append(dict(x=p["labx"], y=yv, xref=xa, yref=ya, text=name, showarrow=False,
                                font=dict(size=21, color="black", family=FONT),
                                xanchor="center", yanchor="middle"))

# The page body has an 8 px margin, so the figure is 991x661 and shifted by 8 px.
W, H, OFF = 991, 661, 8


def px(x):
    return (x - OFF) / W


def py(y):
    return 1 - (y - OFF) / H


tick_style = dict(ticks="inside", ticklen=11, tickwidth=1.5, tickcolor=AX_COLOR,
                  showline=True, linecolor=AX_COLOR, linewidth=1.5, mirror="ticks",
                  showgrid=False, zeroline=False,
                  tickfont=dict(size=21, color="black", family=FONT))

xdom = {"a": [px(106), px(372)], "c": [px(416), px(682)], "e": [px(727), px(993)]}
ydom = {"top": [py(306), py(42)], "bot": [py(606), py(342)]}


def xaxis(dom, rng, tv, mdt, anchor):
    return dict(domain=dom, range=rng, anchor=anchor, tickmode="array", tickvals=tv,
                ticklabelstandoff=-6,
                minor=dict(tickmode="linear", tick0=0, dtick=mdt, ticks="inside", ticklen=6,
                           tickwidth=1.5, tickcolor=AX_COLOR),
                **tick_style)


def yaxis(dom, rng, t0, dt, mdt, anchor):
    return dict(domain=dom, range=rng, anchor=anchor, tick0=t0, dtick=dt, tickformat=".1f",
                minor=dict(tick0=t0, dtick=mdt, ticks="inside", ticklen=6, tickwidth=1.5,
                           tickcolor=AX_COLOR),
                **tick_style)


layout_axes = dict(
    xaxis=xaxis(xdom["a"], [-19.8, 20], co_ticks, 5, "y"),
    yaxis=yaxis(ydom["top"], [0.868, 1.49], 0, 0.2, 0.1, "x"),
    xaxis4=xaxis(xdom["a"], [-19.8, 20], co_ticks, 5, "y4"),
    yaxis4=yaxis(ydom["bot"], [0.762, 1.59], 0, 0.2, 0.1, "x4"),
    xaxis2=xaxis(xdom["c"], [-7.95, 7.95], ni_ticks, 2, "y2"),
    yaxis2=yaxis(ydom["top"], [0.482, 1.592], 0, 0.2, 0.1, "x2"),
    xaxis5=xaxis(xdom["c"], [-7.95, 7.95], ni_ticks, 2, "y5"),
    yaxis5=yaxis(ydom["bot"], [0.61, 1.50], 0, 0.2, 0.1, "x5"),
    xaxis3=xaxis(xdom["e"], [-4.0, 4.0], cu_ticks, 1, "y3"),
    yaxis3=yaxis(ydom["top"], [0.61, 3.24], 0.2, 0.8, 0.4, "x3"),
    xaxis6=xaxis(xdom["e"], [-4.0, 4.0], cu_ticks, 1, "y6"),
    yaxis6=yaxis(ydom["bot"], [0.764, 3.336], 0.2, 0.8, 0.4, "x6"),
)

col_titles = ["<b>Co(thd)<sub>2</sub></b>", "<b>Ni(thd)<sub>2</sub></b>", "<b>Cu(thd)<sub>2</sub></b>"]
for t, cx in zip(col_titles, [239, 535, 854]):
    annotations.append(dict(x=px(cx), y=1.0, xref="paper", yref="paper", text=t, showarrow=False,
                            font=dict(size=29, color="black", family=FONT), borderpad=0,
                            xanchor="center", yanchor="top"))
for t, cx, cy in [("(a)", 234, 71), ("(b)", 237, 368), ("(c)", 547, 69),
                  ("(d)", 546, 368), ("(e)", 859, 72), ("(f)", 859, 373)]:
    annotations.append(dict(x=px(cx), y=py(cy), xref="paper", yref="paper", text="<b>" + t + "</b>",
                            showarrow=False, font=dict(size=54, color="black", family=FONT),
                            xanchor="center", yanchor="middle"))
annotations += [
    dict(x=px(22), y=py(331), xref="paper", yref="paper", text="<b>Normalized <i>dI/dV</i></b>",
         textangle=-90, showarrow=False, font=dict(size=33, color="black", family=FONT),
         xanchor="center", yanchor="middle"),
    dict(x=px(54), y=py(179), xref="paper", yref="paper", text="tunneling",
         textangle=-90, showarrow=False, font=dict(size=34, color="#0000FF", family=FONT),
         xanchor="center", yanchor="middle"),
    dict(x=px(54), y=py(480), xref="paper", yref="paper", text="contact",
         textangle=-90, showarrow=False, font=dict(size=34, color="#FF0000", family=FONT),
         xanchor="center", yanchor="middle"),
    dict(x=px(540), y=py(646), xref="paper", yref="paper", text="<b>Bias <i>V</i> (mV)</b>",
         showarrow=False, font=dict(size=31, color="black", family=FONT),
         xanchor="center", yanchor="middle"),
]

fig.update_layout(width=W, height=H, margin=dict(l=0, r=0, t=0, b=0),
                  paper_bgcolor="white", plot_bgcolor="white",
                  shapes=shapes, annotations=annotations, showlegend=False,
                  font=dict(family=FONT, color="black"), **layout_axes)
fig.write_html("out.html")
